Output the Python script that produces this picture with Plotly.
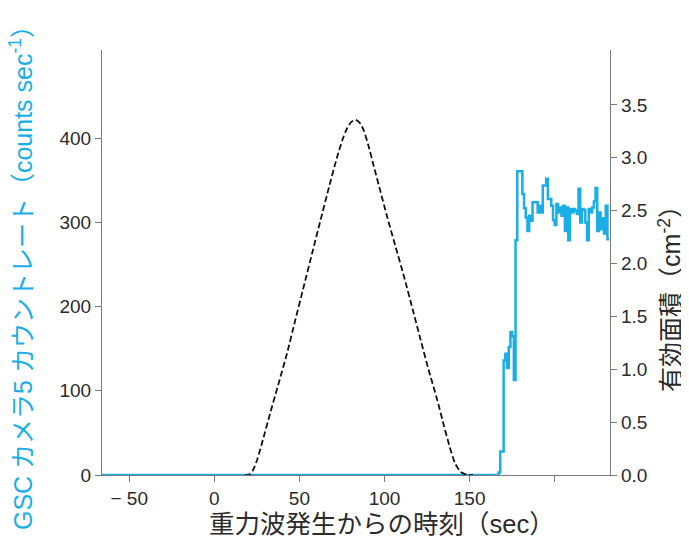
import plotly.graph_objects as go

# Effective area curve (right axis, cm^2) vs time since GW (sec)
area_t = [18, 20.2, 22.5, 25.1, 28.5, 32.9, 37.5, 42.7, 47.5, 52.5, 57.5, 62.4, 67.5, 72.2,
          75.5, 78, 80.5, 83, 85.5, 87.8, 90.5, 93.7, 97.5, 101.6, 106.5, 111.4, 116.5,
          121.2, 126, 131, 135, 138.8, 141.5, 144.7, 147, 148.6, 152]
area_v = [0.0, 0.0, 0.04, 0.14, 0.33, 0.59, 0.85, 1.15, 1.46, 1.78, 2.10, 2.41, 2.73, 3.01,
          3.18, 3.28, 3.34, 3.36, 3.33, 3.26, 3.12, 2.92, 2.69, 2.44, 2.16, 1.88, 1.57,
          1.28, 0.99, 0.71, 0.46, 0.24, 0.11, 0.03, 0.01, 0.0, 0.0]

# GSC camera 5 count rate (left axis), 1-sec bins, value given at bin start
rate_t = [-66, 167, 168, 169, 170, 171, 172, 173, 174, 175, 176, 177] + list(range(178, 233))
rate_v = [0, 3, 28, 28, 136, 144, 127, 152, 170, 165, 113, 279,
          361, 361, 361, 334, 317, 306, 290, 308, 302, 324, 324, 324, 312, 320, 312,
          344, 344, 352, 328, 328, 320, 303, 297, 322, 312, 318, 308, 320, 290, 318,
          279, 316, 312, 316, 314, 310, 340, 300, 316, 315, 300, 279, 316, 312, 318,
          325, 341, 290, 312, 292, 305, 287, 320, 280, 280]

x_tickvals = [-50, 0, 50, 100, 150, 200]
x_ticktext = ["− 50", "0", "50", "100", "150", ""]
y1_tickvals = [0, 100, 200, 300, 400]
y2_tickvals = [0.0, 0.5, 1.0, 1.5, 2.0, 2.5, 3.0, 3.5]
y2_ticktext = ["0.0", "0.5", "1.0", "1.5", "2.0", "2.5", "3.0", "3.5"]

x_title = "重力波発生からの時刻（sec）"
y1_title = "GSC カメラ5 カウントレート（counts sec<sup>-1</sup>）"
y2_title = "有効面積（cm<sup>-2</sup>）"

BLUE = "#1AAEE6"
AXC = "#7a7a7a"
TXT = "#2b2b2b"
FONT = "Liberation Sans, Arial, Noto Sans CJK JP, sans-serif"
TFONT = "Liberation Sans, Noto Sans CJK JP, sans-serif"

fig = go.Figure()
fig.add_trace(go.Scatter(x=rate_t, y=rate_v, mode="lines", line=dict(color=BLUE, width=2.5, shape="hv"),
                         yaxis="y", showlegend=False, hoverinfo="skip"))
fig.add_trace(go.Scatter(x=area_t, y=area_v, mode="lines",
                         line=dict(color="#111111", width=1.8, dash="6px,3px", shape="spline", smoothing=0.6),
                         yaxis="y2", showlegend=False, hoverinfo="skip"))

axis_common = dict(showline=True, linecolor=AXC, linewidth=1.2, ticks="outside", ticklen=6, tickcolor=AXC,
                   showgrid=False, zeroline=False, automargin=False,
                   tickfont=dict(size=19, color=TXT, family=FONT))

# page has an 8px body margin: figure is 681x535 so it fills the 689x543 window
fig.update_layout(
    width=681, height=535,
    margin=dict(l=94, r=79, t=42, b=68, autoexpand=False),
    paper_bgcolor="white", plot_bgcolor="white",
    font=dict(family=FONT, color=TXT, size=19),
    xaxis=dict(range=[-66, 232.5], tickvals=x_tickvals, ticktext=x_ticktext, **axis_common),
    yaxis=dict(range=[0, 505], tickvals=y1_tickvals, **axis_common),
    yaxis2=dict(range=[0, 4.02], tickvals=y2_tickvals, ticktext=y2_ticktext, overlaying="y", side="right",
                **axis_common),
    annotations=[
        dict(text=x_title, xref="paper", yref="paper", x=0.551, y=-0.1153, xanchor="center", yanchor="middle",
             showarrow=False, font=dict(size=25.5, family=TFONT, color=TXT)),
        dict(text=y1_title, xref="paper", yref="paper", x=-0.1594, y=0.4776, xanchor="center", yanchor="middle",
             textangle=-90, showarrow=False, font=dict(size=25, family=TFONT, color=BLUE)),
        dict(text=y2_title, xref="paper", yref="paper", x=1.118, y=0.4306, xanchor="center", yanchor="middle",
             textangle=-90, showarrow=False, font=dict(size=25, family=TFONT, color=TXT)),
    ],
)

fig.write_html("out.html")
